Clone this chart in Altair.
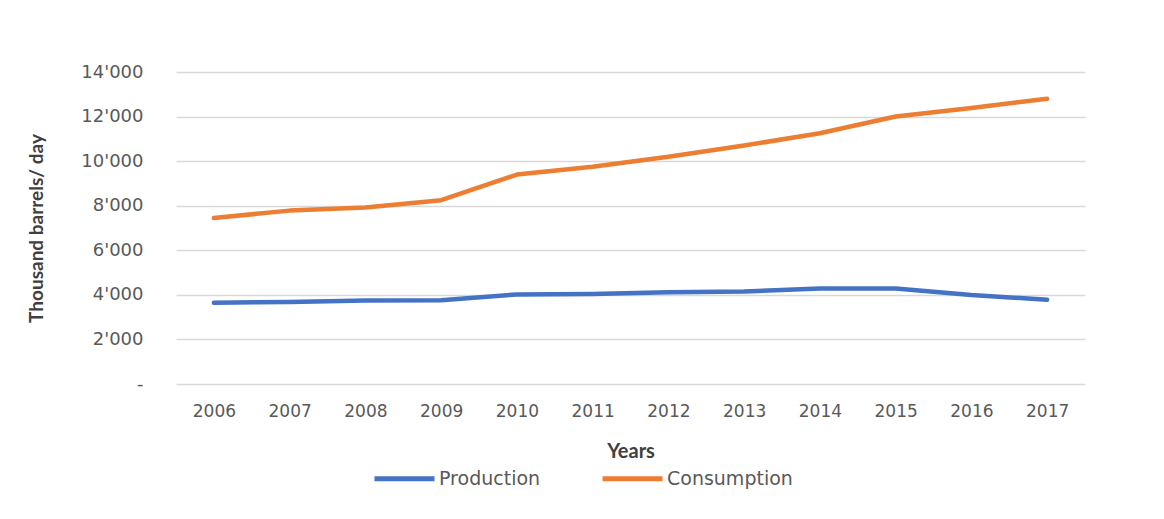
import altair as alt
import pandas as pd

years = [str(y) for y in range(2006, 2018)]
production = [3650, 3680, 3750, 3760, 4020, 4040, 4120, 4150, 4280, 4290, 3990, 3780]
consumption = [7450, 7780, 7920, 8250, 9400, 9750, 10200, 10700, 11250, 12000, 12380, 12800]
series = ["Production", "Consumption"]
colors = ["#4472C4", "#ED7D31"]

rows = []
for i, y in enumerate(years):
    rows.append({"Year": y, "Series": "Production", "Value": production[i]})
    rows.append({"Year": y, "Series": "Consumption", "Value": consumption[i]})
df = pd.DataFrame(rows)

FONT = "DejaVu Sans"

chart = alt.Chart(df).mark_line(strokeWidth=4.5, strokeCap="round", strokeJoin="round").encode(
    x=alt.X("Year:O", sort=years,
            scale=alt.Scale(type="point", padding=0.5),
            axis=alt.Axis(title="Years", labelAngle=0, labelFont=FONT, labelFontSize=17,
                          labelColor="#595959", labelPadding=19, ticks=False, domain=False,
                          titleFont="Lato", titleFontSize=20, titleFontWeight="bold",
                          titleColor="#404040", titlePadding=22)),
    y=alt.Y("Value:Q", scale=alt.Scale(domain=[0, 14000], nice=False),
            axis=alt.Axis(title="Thousand barrels/ day", values=list(range(0, 14001, 2000)),
                          labelExpr="datum.value == 0 ? '-' : replace(format(datum.value, ','), ',', \"'\")",
                          labelFont=FONT, labelFontSize=18, labelColor="#595959",
                          labelPadding=33, ticks=False, domain=False,
                          gridColor="#d9d9d9", gridWidth=1.3,
                          titleFont="Lato", titleFontSize=19,
                          titleFontWeight="bold", titleColor="#404040", titlePadding=34)),
    color=alt.Color("Series:N", sort=series,
                    scale=alt.Scale(domain=series, range=colors),
                    legend=alt.Legend(title=None, orient="none", direction="horizontal",
                                      legendX=196, legendY=374,
                                      symbolType="stroke", symbolSize=3600,
                                      symbolStrokeWidth=5, labelFont=FONT,
                                      labelFontSize=19, labelColor="#595959",
                                      labelOffset=2, columnPadding=51)),
    detail="Series:N",
).properties(
    width=909, height=312,
    autosize=alt.AutoSizeParams(type="none"),
    padding={"left": 176, "top": 72, "right": 79, "bottom": 135},
    background="white",
).configure_view(stroke=None)

chart.save("out.html", embed_options={"renderer": "svg", "actions": False})
